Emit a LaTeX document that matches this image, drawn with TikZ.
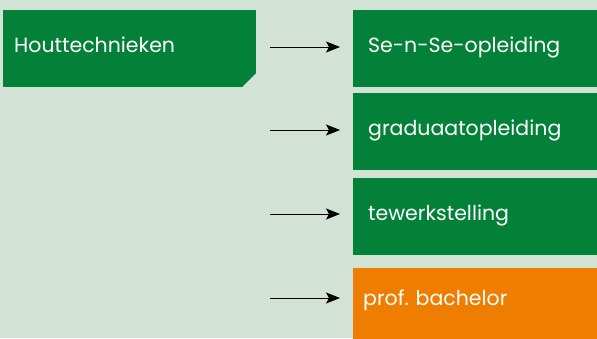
\documentclass[tikz,border=0pt]{standalone}
\usepackage{fontspec}
\setmainfont{Poppins}
\usepackage{tikz}
\usetikzlibrary{arrows.meta}

\definecolor{bgmint}{HTML}{D2E3D5}
\definecolor{boxgreen}{HTML}{038139}
\definecolor{boxorange}{HTML}{EF7D00}

\tikzset{
  route/.style={rectangle, fill=boxgreen, text=white, anchor=north west,
    inner ysep=0pt, minimum height=77pt, align=left,
    text height=14pt, text depth=5.6pt,
    font=\fontsize{20.5}{24}\selectfont,
    path picture={\fill[bgmint] (path picture bounding box.south east) ++(-14pt,0pt)
      -- ++(14pt,14pt) -- ++(0pt,-14pt) -- cycle;}},
  pijl/.style={-{Stealth[length=14pt,width=11pt,inset=3pt]}, line width=0.8pt, shorten >=13pt}
}

\begin{document}
\frenchspacing
\begin{tikzpicture}[x=1pt,y=-1pt]
    \useasboundingbox (0,0) rectangle (597,338);
    \fill[bgmint] (0,0) rectangle (597,338);
    \clip (0,0) rectangle (597,338);

    % Vertrek
    \node[route, inner xsep=11pt, text width=231pt] (hout) at (3,10) {Houttechnieken};

    % Vervolgtrajecten
    \node[route, inner xsep=15pt, text width=231pt] (sense) at (353,10) {Se-n-Se-opleiding};
    \node[route, inner xsep=15pt, text width=231pt] (gradu) at (353,93) {graduaatopleiding};
    \node[route, inner xsep=15pt, text width=231pt] (tewerk) at (353,178) {tewerkstelling};
    \node[route, fill=boxorange, inner xsep=10pt, text width=241pt, text depth=17pt] (bach) at (353,268) {prof. bachelor};

    % Pijlen
    \coordinate (p1) at (270,47);
    \coordinate (p2) at (270,130);
    \coordinate (p3) at (270,214);
    \coordinate (p4) at (270,298);
    \draw[pijl] (p1) -- (p1 -| sense.west);
    \draw[pijl] (p2) -- (p2 -| gradu.west);
    \draw[pijl] (p3) -- (p3 -| tewerk.west);
    \draw[pijl] (p4) -- (p4 -| bach.west);
\end{tikzpicture}
\end{document}
